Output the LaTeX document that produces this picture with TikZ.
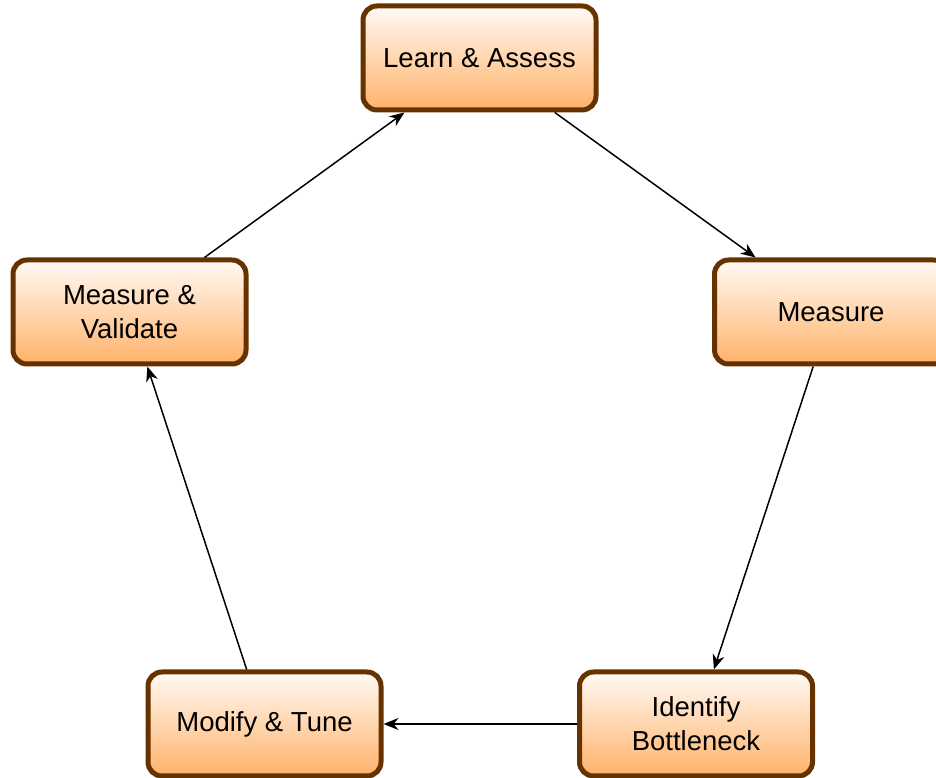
\documentclass[tikz,border=0pt]{standalone}
\usepackage{fontspec}
\setmainfont{Liberation Sans}
\usetikzlibrary{arrows.meta}
\definecolor{boxborder}{RGB}{102,51,0}
\definecolor{boxtop}{RGB}{255,250,245}
\definecolor{boxbottom}{RGB}{255,178,105}
\tikzset{
  stagebox/.style={draw=boxborder, line width=5pt, rounded corners=14pt,
    top color=boxtop, bottom color=boxbottom,
    minimum width=233pt, minimum height=104pt, align=center,
    font=\fontsize{27.5}{34}\selectfont, text=black},
  flow/.style={line width=1.5pt, -{Stealth[length=15pt,width=12pt]}, draw=black}
}
\begin{document}
\begin{tikzpicture}[x=1pt,y=1pt]
\useasboundingbox (0,0) rectangle (936,778);
\begin{scope}
\clip (0,0) rectangle (936,778);
\node[stagebox] (learn)    at (479.5,720) {Learn \& Assess};
\node[stagebox] (measure)  at (831,466)   {Measure};
\node[stagebox] (identify) at (696,54)    {Identify\\Bottleneck};
\node[stagebox] (modify)   at (264.5,54)  {Modify \& Tune};
\node[stagebox] (validate) at (129.5,466) {Measure \&\\Validate};
\end{scope}
\draw[flow] (learn) -- (measure);
\draw[flow] (measure) -- (identify);
\draw[flow] (identify) -- (modify);
\draw[flow] (modify) -- (validate);
\draw[flow] (validate) -- (learn);
\end{tikzpicture}
\end{document}
